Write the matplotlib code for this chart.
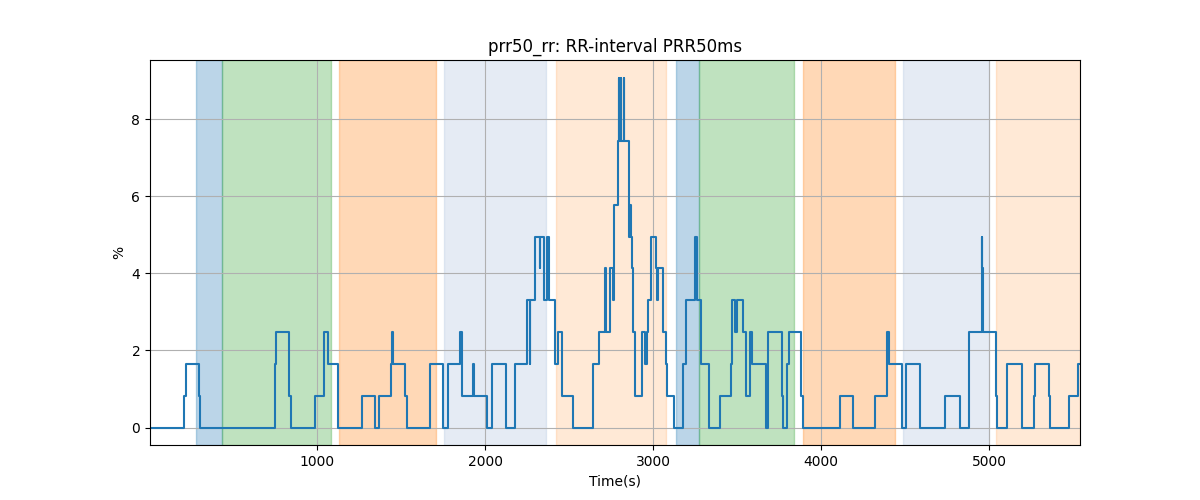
import numpy as np
import matplotlib
matplotlib.use("Agg")
import matplotlib.pyplot as plt

# change points of the PRR50 step signal (time in s, value in %)
times = [5, 208, 220, 297, 303, 748, 754, 833, 843, 986, 1040, 1065, 1123, 1264, 1347, 1371,
         1438, 1444, 1450, 1522, 1532, 1669, 1748, 1780, 1851, 1865, 1928, 1932, 2010, 2043,
         2127, 2179, 2248, 2266, 2269, 2298, 2325, 2329, 2351, 2371, 2381, 2415, 2434, 2460,
         2521, 2640, 2675, 2713, 2721, 2745, 2763, 2766, 2769, 2789, 2795, 2797, 2809, 2811,
         2824, 2826, 2854, 2859, 2864, 2871, 2876, 2879, 2891, 2933, 2951, 2963, 2967, 2987,
         3016, 3022, 3030, 3056, 3076, 3082, 3122, 3176, 3196, 3249, 3261, 3284, 3334, 3400,
         3463, 3467, 3486, 3497, 3534, 3554, 3574, 3586, 3674, 3684, 3767, 3773, 3795, 3807,
         3881, 3895, 4110, 4189, 4318, 4391, 4402, 4479, 4503, 4586, 4740, 4825, 4881, 4956,
         4958, 4959, 4962, 5038, 5044, 5109, 5194, 5198, 5270, 5274, 5359, 5363, 5474, 5530,
         5541]
values = [0, 0.83, 1.65, 0.83, 0, 1.65, 2.48, 0.83, 0, 0.83, 2.48, 1.65, 0, 0.83, 0, 0.83,
          1.65, 2.48, 1.65, 0.83, 0, 1.65, 0, 1.65, 2.48, 0.83, 1.65, 0.83, 0, 1.65,
          0, 1.65, 3.31, 1.65, 3.31, 4.96, 4.13, 4.96, 3.31, 4.96, 3.31, 1.65, 2.48, 0.83,
          0, 1.65, 2.48, 4.13, 2.48, 4.13, 3.31, 4.13, 5.79, 7.44, 9.09, 7.44, 9.09, 7.44,
          9.09, 7.44, 5.79, 4.96, 5.79, 4.96, 4.13, 2.48, 0.83, 2.48, 1.65, 2.48, 3.31, 4.96,
          4.13, 3.31, 4.13, 2.48, 1.65, 0.83, 0, 1.65, 3.31, 4.96, 3.31, 1.65, 0, 0.83,
          1.65, 3.31, 2.48, 3.31, 2.48, 0.83, 2.48, 1.65, 0, 2.48, 0.83, 0, 1.65, 2.48,
          0.83, 0, 0.83, 0, 0.83, 2.48, 1.65, 0, 1.65, 0, 0.83, 0, 2.48, 4.13,
          4.96, 4.13, 2.48, 0.83, 0, 1.65, 0.83, 0, 0.83, 1.65, 0.83, 0, 0.83, 1.65,
          1.65]

# shaded phases
span_start = [279, 434, 1129, 1755, 2421, 3138, 3274, 3890, 4486, 5040]
span_end = [434, 1080, 1706, 2362, 3077, 3274, 3840, 4438, 5000, 5541]
span_color = ["tab:blue", "tab:green", "tab:orange", "lightsteelblue", "tab:orange",
              "tab:blue", "tab:green", "tab:orange", "lightsteelblue", "tab:orange"]
span_alpha = [0.3, 0.3, 0.3, 0.33, 0.17, 0.3, 0.3, 0.3, 0.33, 0.17]

fig, ax = plt.subplots(figsize=(12, 5), dpi=100)

for s, e, c, a in zip(span_start, span_end, span_color, span_alpha):
    ax.axvspan(s, e, color=c, alpha=a)

ax.plot(np.array(times), np.array(values), drawstyle="steps-post", color="tab:blue")

ax.set_xlim(times[0], times[-1])
ax.set_title("prr50_rr: RR-interval PRR50ms")
ax.set_xlabel("Time(s)")
ax.set_ylabel("%")
ax.grid(True)

fig.savefig("out.png")
